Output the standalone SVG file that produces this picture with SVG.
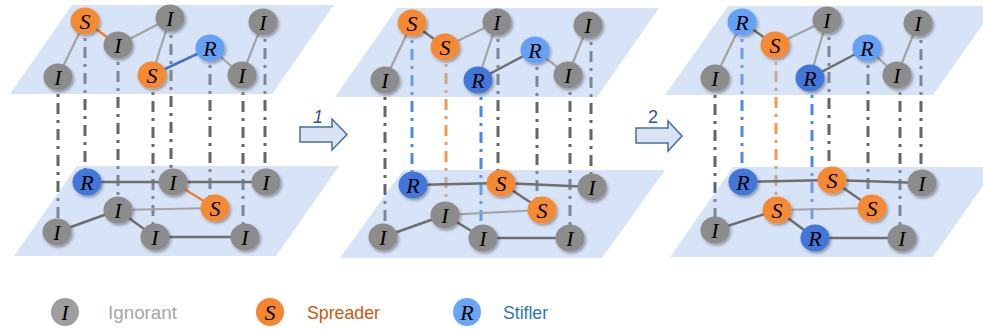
<svg xmlns="http://www.w3.org/2000/svg" width="983" height="329" viewBox="0 0 983 329">
<defs>
<filter id="sh" x="-30%" y="-30%" width="170%" height="170%">
<feDropShadow dx="1.5" dy="2" stdDeviation="1.5" flood-color="#000" flood-opacity="0.35"/>
</filter>
<style>
.plane{fill:#9ab8ec;fill-opacity:0.4;stroke:none}
.v{fill:none;stroke-width:3;stroke-dasharray:11 6 3 6}
.vg{stroke:#656565}
.vb{stroke:#4a88f0}
.vo{stroke:#f29a50}
.e{fill:none;stroke:#6e6e6e;stroke-width:2.5}
.el{fill:none;stroke:#a3a3a3;stroke-width:2.2}
.eo{fill:none;stroke:#ed7d31;stroke-width:2.5}
.eb{fill:none;stroke:#4472c4;stroke-width:2.5}
.node ellipse{filter:url(#sh)}
.ni{fill:#8c8c8c}
.ns{fill:#f58a34}
.nr{fill:#65a0f7}
.nd{fill:#4276d8}
.lt{font-family:"Liberation Serif",serif;font-style:italic;font-size:22px;fill:#000;text-anchor:middle}
.arrow{fill:#dae3f3;stroke:#41719c;stroke-width:1.5}
.an{font-family:"Liberation Sans",sans-serif;font-size:18px;fill:#2f5597;text-anchor:middle}
.lg{font-family:"Liberation Sans",sans-serif;font-size:19px}
</style>
</defs>
<rect width="983" height="329" fill="#fff"/>

<g id="connectors-vertical">
<line class="v vg" x1="58" y1="77" x2="58" y2="232"/>
<line class="v vg" x1="85" y1="21" x2="85" y2="182"/>
<line class="v vg" x1="118" y1="45" x2="118" y2="210"/>
<line class="v vg" x1="153" y1="75" x2="153" y2="237"/>
<line class="v vg" x1="171" y1="18" x2="171" y2="182"/>
<line class="v vg" x1="210" y1="48" x2="210" y2="208"/>
<line class="v vg" x1="243" y1="75" x2="243" y2="237"/>
<line class="v vg" x1="265" y1="22" x2="265" y2="182"/>
<line class="v vg" x1="385" y1="80" x2="385" y2="237"/>
<line class="v vb" x1="412" y1="23" x2="412" y2="185"/>
<line class="v vo" x1="446" y1="47" x2="446" y2="215"/>
<line class="v vb" x1="481" y1="80" x2="481" y2="238"/>
<line class="v vg" x1="498" y1="22" x2="498" y2="183"/>
<line class="v vg" x1="537" y1="50" x2="537" y2="210"/>
<line class="v vg" x1="570" y1="75" x2="570" y2="238"/>
<line class="v vg" x1="591" y1="25" x2="591" y2="187"/>
<line class="v vg" x1="715" y1="78" x2="715" y2="230"/>
<line class="v vb" x1="742" y1="22" x2="742" y2="182"/>
<line class="v vo" x1="776" y1="45" x2="776" y2="210"/>
<line class="v vb" x1="812" y1="78" x2="812" y2="238"/>
<line class="v vg" x1="829" y1="20" x2="829" y2="180"/>
<line class="v vg" x1="868" y1="48" x2="868" y2="208"/>
<line class="v vg" x1="900" y1="75" x2="900" y2="238"/>
<line class="v vg" x1="921" y1="23" x2="921" y2="183"/>
</g>

<g id="planes">
<polygon class="plane" points="72,5 334,5 272,94 10,94"/>
<polygon class="plane" points="77,166 339,166 276,256 14,256"/>
<polygon class="plane" points="397,8 659,8 597,97 335,97"/>
<polygon class="plane" points="403,170 665,170 602,258 340,258"/>
<polygon class="plane" points="728,6 996,6 933,95 665,95"/>
<polygon class="plane" points="733,167 996,167 933,257 670,257"/>
</g>

<g id="connectors">
<line class="el" x1="85" y1="21" x2="58" y2="77"/>
<line class="eo" x1="85" y1="21" x2="118" y2="45"/>
<line class="el" x1="118" y1="45" x2="170" y2="18"/>
<line class="el" x1="170" y1="18" x2="152" y2="75"/>
<line class="eb" x1="152" y1="75" x2="210" y2="48"/>
<line class="el" x1="210" y1="48" x2="242" y2="75"/>
<line class="el" x1="242" y1="75" x2="263" y2="22"/>
<line class="e" x1="87" y1="182" x2="173" y2="182"/>
<line class="e" x1="173" y1="182" x2="266" y2="182"/>
<line class="eo" x1="173" y1="182" x2="215" y2="208"/>
<line class="el" x1="118" y1="210" x2="215" y2="208"/>
<line class="e" x1="57" y1="232" x2="118" y2="210"/>
<line class="e" x1="118" y1="210" x2="155" y2="237"/>
<line class="e" x1="155" y1="237" x2="245" y2="237"/>
<line class="el" x1="412" y1="23" x2="385" y2="80"/>
<line class="e" x1="412" y1="23" x2="445" y2="47"/>
<line class="el" x1="445" y1="47" x2="497" y2="22"/>
<line class="el" x1="497" y1="22" x2="478" y2="80"/>
<line class="e" x1="478" y1="80" x2="535" y2="50"/>
<line class="el" x1="535" y1="50" x2="568" y2="75"/>
<line class="el" x1="568" y1="75" x2="588" y2="25"/>
<line class="e" x1="413" y1="185" x2="501" y2="183"/>
<line class="e" x1="501" y1="183" x2="592" y2="187"/>
<line class="e" x1="501" y1="183" x2="542" y2="210"/>
<line class="el" x1="445" y1="215" x2="542" y2="210"/>
<line class="e" x1="383" y1="237" x2="445" y2="215"/>
<line class="e" x1="445" y1="215" x2="483" y2="238"/>
<line class="e" x1="483" y1="238" x2="570" y2="238"/>
<line class="el" x1="742" y1="22" x2="715" y2="78"/>
<line class="e" x1="742" y1="22" x2="775" y2="45"/>
<line class="el" x1="775" y1="45" x2="827" y2="20"/>
<line class="el" x1="827" y1="20" x2="810" y2="78"/>
<line class="e" x1="810" y1="78" x2="867" y2="48"/>
<line class="el" x1="867" y1="48" x2="897" y2="75"/>
<line class="el" x1="897" y1="75" x2="918" y2="23"/>
<line class="e" x1="743" y1="182" x2="832" y2="180"/>
<line class="e" x1="832" y1="180" x2="922" y2="183"/>
<line class="e" x1="832" y1="180" x2="872" y2="208"/>
<line class="el" x1="777" y1="210" x2="872" y2="208"/>
<line class="e" x1="715" y1="230" x2="777" y2="210"/>
<line class="e" x1="777" y1="210" x2="815" y2="238"/>
<line class="e" x1="815" y1="238" x2="902" y2="238"/>
</g>

<g id="p1t-a" class="node"><ellipse class="ns" cx="85" cy="21" rx="14.5" ry="13.5"/><text class="lt" x="85" y="29">S</text></g>
<g id="p1t-b" class="node"><ellipse class="ni" cx="118" cy="45" rx="14.5" ry="13.5"/><text class="lt" x="118" y="53">I</text></g>
<g id="p1t-c" class="node"><ellipse class="ni" cx="170" cy="18" rx="14.5" ry="13.5"/><text class="lt" x="170" y="26">I</text></g>
<g id="p1t-d" class="node"><ellipse class="nr" cx="210" cy="48" rx="14.5" ry="13.5"/><text class="lt" x="210" y="56">R</text></g>
<g id="p1t-e" class="node"><ellipse class="ni" cx="263" cy="22" rx="14.5" ry="13.5"/><text class="lt" x="263" y="30">I</text></g>
<g id="p1t-f" class="node"><ellipse class="ni" cx="58" cy="77" rx="14.5" ry="13.5"/><text class="lt" x="58" y="85">I</text></g>
<g id="p1t-g" class="node"><ellipse class="ns" cx="152" cy="75" rx="14.5" ry="13.5"/><text class="lt" x="152" y="83">S</text></g>
<g id="p1t-h" class="node"><ellipse class="ni" cx="242" cy="75" rx="14.5" ry="13.5"/><text class="lt" x="242" y="83">I</text></g>
<g id="p1b-a" class="node"><ellipse class="nd" cx="87" cy="182" rx="14.5" ry="13.5"/><text class="lt" x="87" y="190">R</text></g>
<g id="p1b-b" class="node"><ellipse class="ni" cx="173" cy="182" rx="14.5" ry="13.5"/><text class="lt" x="173" y="190">I</text></g>
<g id="p1b-c" class="node"><ellipse class="ni" cx="266" cy="182" rx="14.5" ry="13.5"/><text class="lt" x="266" y="190">I</text></g>
<g id="p1b-d" class="node"><ellipse class="ns" cx="215" cy="208" rx="14.5" ry="13.5"/><text class="lt" x="215" y="216">S</text></g>
<g id="p1b-e" class="node"><ellipse class="ni" cx="118" cy="210" rx="14.5" ry="13.5"/><text class="lt" x="118" y="218">I</text></g>
<g id="p1b-f" class="node"><ellipse class="ni" cx="57" cy="232" rx="14.5" ry="13.5"/><text class="lt" x="57" y="240">I</text></g>
<g id="p1b-g" class="node"><ellipse class="ni" cx="155" cy="237" rx="14.5" ry="13.5"/><text class="lt" x="155" y="245">I</text></g>
<g id="p1b-h" class="node"><ellipse class="ni" cx="245" cy="237" rx="14.5" ry="13.5"/><text class="lt" x="245" y="245">I</text></g>

<g id="p2t-a" class="node"><ellipse class="ns" cx="412" cy="23" rx="14.5" ry="13.5"/><text class="lt" x="412" y="31">S</text></g>
<g id="p2t-b" class="node"><ellipse class="ns" cx="445" cy="47" rx="14.5" ry="13.5"/><text class="lt" x="445" y="55">S</text></g>
<g id="p2t-c" class="node"><ellipse class="ni" cx="497" cy="22" rx="14.5" ry="13.5"/><text class="lt" x="497" y="30">I</text></g>
<g id="p2t-d" class="node"><ellipse class="nr" cx="535" cy="50" rx="14.5" ry="13.5"/><text class="lt" x="535" y="58">R</text></g>
<g id="p2t-e" class="node"><ellipse class="ni" cx="588" cy="25" rx="14.5" ry="13.5"/><text class="lt" x="588" y="33">I</text></g>
<g id="p2t-f" class="node"><ellipse class="ni" cx="385" cy="80" rx="14.5" ry="13.5"/><text class="lt" x="385" y="88">I</text></g>
<g id="p2t-g" class="node"><ellipse class="nd" cx="478" cy="80" rx="14.5" ry="13.5"/><text class="lt" x="478" y="88">R</text></g>
<g id="p2t-h" class="node"><ellipse class="ni" cx="568" cy="75" rx="14.5" ry="13.5"/><text class="lt" x="568" y="83">I</text></g>
<g id="p2b-a" class="node"><ellipse class="nd" cx="413" cy="185" rx="14.5" ry="13.5"/><text class="lt" x="413" y="193">R</text></g>
<g id="p2b-b" class="node"><ellipse class="ns" cx="501" cy="183" rx="14.5" ry="13.5"/><text class="lt" x="501" y="191">S</text></g>
<g id="p2b-c" class="node"><ellipse class="ni" cx="592" cy="187" rx="14.5" ry="13.5"/><text class="lt" x="592" y="195">I</text></g>
<g id="p2b-d" class="node"><ellipse class="ns" cx="542" cy="210" rx="14.5" ry="13.5"/><text class="lt" x="542" y="218">S</text></g>
<g id="p2b-e" class="node"><ellipse class="ni" cx="445" cy="215" rx="14.5" ry="13.5"/><text class="lt" x="445" y="223">I</text></g>
<g id="p2b-f" class="node"><ellipse class="ni" cx="383" cy="237" rx="14.5" ry="13.5"/><text class="lt" x="383" y="245">I</text></g>
<g id="p2b-g" class="node"><ellipse class="ni" cx="483" cy="238" rx="14.5" ry="13.5"/><text class="lt" x="483" y="246">I</text></g>
<g id="p2b-h" class="node"><ellipse class="ni" cx="570" cy="238" rx="14.5" ry="13.5"/><text class="lt" x="570" y="246">I</text></g>

<g id="p3t-a" class="node"><ellipse class="nr" cx="742" cy="22" rx="14.5" ry="13.5"/><text class="lt" x="742" y="30">R</text></g>
<g id="p3t-b" class="node"><ellipse class="ns" cx="775" cy="45" rx="14.5" ry="13.5"/><text class="lt" x="775" y="53">S</text></g>
<g id="p3t-c" class="node"><ellipse class="ni" cx="827" cy="20" rx="14.5" ry="13.5"/><text class="lt" x="827" y="28">I</text></g>
<g id="p3t-d" class="node"><ellipse class="nr" cx="867" cy="48" rx="14.5" ry="13.5"/><text class="lt" x="867" y="56">R</text></g>
<g id="p3t-e" class="node"><ellipse class="ni" cx="918" cy="23" rx="14.5" ry="13.5"/><text class="lt" x="918" y="31">I</text></g>
<g id="p3t-f" class="node"><ellipse class="ni" cx="715" cy="78" rx="14.5" ry="13.5"/><text class="lt" x="715" y="86">I</text></g>
<g id="p3t-g" class="node"><ellipse class="nd" cx="810" cy="78" rx="14.5" ry="13.5"/><text class="lt" x="810" y="86">R</text></g>
<g id="p3t-h" class="node"><ellipse class="ni" cx="897" cy="75" rx="14.5" ry="13.5"/><text class="lt" x="897" y="83">I</text></g>
<g id="p3b-a" class="node"><ellipse class="nd" cx="743" cy="182" rx="14.5" ry="13.5"/><text class="lt" x="743" y="190">R</text></g>
<g id="p3b-b" class="node"><ellipse class="ns" cx="832" cy="180" rx="14.5" ry="13.5"/><text class="lt" x="832" y="188">S</text></g>
<g id="p3b-c" class="node"><ellipse class="ni" cx="922" cy="183" rx="14.5" ry="13.5"/><text class="lt" x="922" y="191">I</text></g>
<g id="p3b-d" class="node"><ellipse class="ns" cx="872" cy="208" rx="14.5" ry="13.5"/><text class="lt" x="872" y="216">S</text></g>
<g id="p3b-e" class="node"><ellipse class="ns" cx="777" cy="210" rx="14.5" ry="13.5"/><text class="lt" x="777" y="218">S</text></g>
<g id="p3b-f" class="node"><ellipse class="ni" cx="715" cy="230" rx="14.5" ry="13.5"/><text class="lt" x="715" y="238">I</text></g>
<g id="p3b-g" class="node"><ellipse class="nd" cx="815" cy="238" rx="14.5" ry="13.5"/><text class="lt" x="815" y="246">R</text></g>
<g id="p3b-h" class="node"><ellipse class="ni" cx="902" cy="238" rx="14.5" ry="13.5"/><text class="lt" x="902" y="246">I</text></g>

<g id="arrow1">
<polygon class="arrow" points="300,127 332,127 332,119 347,134.5 332,150 332,142 300,142"/>
<text class="an" x="318" y="123" font-style="italic">1</text>
</g>
<g id="arrow2">
<polygon class="arrow" points="636,128 668,128 668,121 682,136 668,151 668,143 636,143"/>
<text class="an" x="653" y="123">2</text>
</g>

<g id="legend-ignorant">
<circle cx="65" cy="312" r="14" fill="#9e9e9e"/>
<text class="lt" x="65" y="320">I</text>
<text class="lg" x="108" y="319" fill="#a6a6a6" textLength="69" lengthAdjust="spacingAndGlyphs">Ignorant</text>
</g>
<g id="legend-spreader">
<circle cx="270" cy="312" r="14" fill="#f4862f"/>
<text class="lt" x="270" y="320">S</text>
<text class="lg" x="307" y="319" fill="#c55a11" textLength="73" lengthAdjust="spacingAndGlyphs">Spreader</text>
</g>
<g id="legend-stifler">
<circle cx="467" cy="312" r="14" fill="#6aa4f8"/>
<text class="lt" x="467" y="320">R</text>
<text class="lg" x="503" y="319" fill="#2e75b6" textLength="45" lengthAdjust="spacingAndGlyphs">Stifler</text>
</g>
</svg>
